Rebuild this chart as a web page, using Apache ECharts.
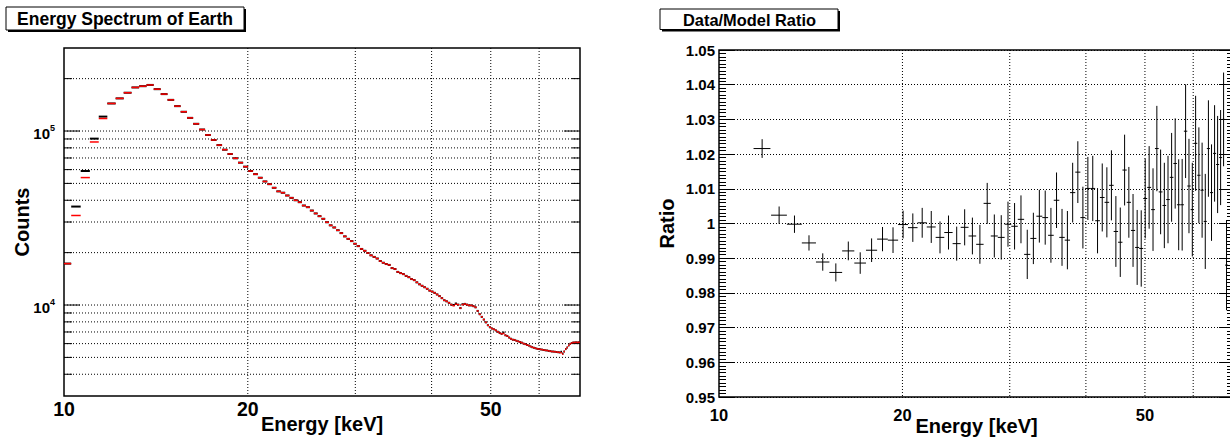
<!DOCTYPE html>
<html>
<head>
<meta charset="utf-8">
<script src="https://cdn.jsdelivr.net/npm/echarts@6.0.0/dist/echarts.min.js"></script>
<style>
html,body{margin:0;padding:0;background:#fff;}
#c{width:1230px;height:438px;}
</style>
</head>
<body>
<div id="c"></div>
<script>
// ---------------- data ----------------
// spectrum histogram binning (keV)
const specBinLow = 9.9;
const specBinWidth = 0.375;
// measured counts (black) per bin
const countsData = [
  17300, 36800, 58900, 90400, 121000, 144000, 154000, 166000, 178000, 181000,
  184000, 174000, 163000, 151000, 139000, 129000, 119000, 110000, 102000, 94900,
  88800, 83000, 78100, 73800, 69700, 65800, 62400, 58900, 56500, 53900,
  51300, 49500, 47200, 45000, 44200, 42600, 41300, 40000, 39000, 37300,
  36500, 34900, 33600, 32400, 31300, 29900, 28700, 27900, 26900, 25900,
  24800, 24000, 23300, 22500, 21800, 21000, 20500, 19900, 19300, 18900,
  18500, 17900, 17500, 17200, 17000, 16300, 16100, 15500, 15250, 15050,
  14700, 14450, 14100, 13900, 13500, 13150, 12900, 12650, 12400, 12100,
  11950, 11750, 11500, 11250, 10950, 10650, 10500, 10300, 10050, 10000,
  10200, 10050, 9600, 10100, 10150, 10050, 9950, 9950, 9850, 9700,
  9250, 8850, 8550, 8250, 7950, 7650, 7450, 7330, 7250, 7150,
  7020, 6900, 6830, 6950, 6700, 6640, 6500, 6400, 6320, 6300,
  6230, 6180, 6120, 6080, 6000, 5960, 5900, 5850, 5780, 5720,
  5690, 5640, 5600, 5580, 5560, 5540, 5510, 5490, 5470, 5450,
  5430, 5410, 5400, 5380, 5370, 5350, 5340, 5380, 5260, 5400,
  5580, 5700, 5860, 5980, 6050, 6080, 6090, 6100, 6090, 6100,
  6080
];
// model counts (red) per bin
const countsModel = [
  17300, 32700, 54000, 86500, 118000, 144000, 154000, 166000, 178000, 181000,
  184000, 174000, 163000, 151000, 139000, 129000, 119000, 110000, 102000, 94900,
  88800, 83000, 78100, 73800, 69700, 65800, 62400, 58900, 56500, 53900,
  51300, 49500, 47200, 45000, 44200, 42600, 41300, 40000, 39000, 37300,
  36500, 34900, 33600, 32400, 31300, 29900, 28700, 27900, 26900, 25900,
  24800, 24000, 23300, 22500, 21800, 21000, 20500, 19900, 19300, 18900,
  18500, 17900, 17500, 17200, 17000, 16300, 16100, 15500, 15250, 15050,
  14700, 14450, 14100, 13900, 13500, 13150, 12900, 12650, 12400, 12100,
  11950, 11750, 11500, 11250, 10950, 10650, 10500, 10300, 10050, 9900,
  10100, 10050, 9600, 10050, 10150, 10050, 9950, 9950, 9850, 9700,
  9250, 8850, 8550, 8250, 7950, 7650, 7450, 7330, 7250, 7150,
  7020, 6900, 6830, 6860, 6700, 6640, 6500, 6400, 6320, 6300,
  6230, 6180, 6120, 6080, 6000, 5960, 5900, 5850, 5780, 5720,
  5690, 5640, 5600, 5580, 5560, 5540, 5510, 5490, 5470, 5450,
  5430, 5410, 5400, 5380, 5370, 5350, 5340, 5320, 5220, 5400,
  5580, 5700, 5860, 5980, 6050, 6080, 6090, 6100, 6090, 6100,
  6080
];
// data/model ratio points
const ratioEnergy = [
  11.77, 12.55, 13.30, 14.05, 14.80, 15.55, 16.30, 17.05, 17.80, 18.55,
  19.30, 20.05, 20.80, 21.55, 22.30, 23.05, 23.80, 24.55, 25.30, 26.05,
  26.80, 27.55, 28.30, 29.05, 29.80, 30.55, 31.30, 32.05, 32.80, 33.55,
  34.30, 35.05, 35.80, 36.55, 37.30, 38.05, 38.80, 39.55, 40.30, 41.05,
  41.80, 42.55, 43.30, 44.05, 44.80, 45.55, 46.30, 47.05, 47.80, 48.55,
  49.30, 50.05, 50.80, 51.55, 52.30, 53.05, 53.80, 54.55, 55.30, 56.05,
  56.80, 57.55, 58.30, 59.05, 59.80, 60.55, 61.30, 62.05, 62.80, 63.55,
  64.30, 65.05, 65.80, 66.55, 67.30, 68.05
];
const ratioValue = [
  1.0216, 1.0024, 0.9998, 0.9944, 0.9889, 0.9859, 0.9921, 0.9886, 0.9923, 0.9955,
  0.9952, 0.9997, 0.9988, 1.0002, 0.9990, 0.9960, 0.9974, 0.9942, 0.9989, 0.9964,
  0.9940, 1.0058, 0.9964, 0.9960, 0.9998, 0.9992, 1.0012, 0.9911, 0.9957, 1.0021,
  1.0017, 0.9966, 1.0067, 0.9960, 0.9952, 1.0089, 1.0148, 1.0017, 1.0101, 1.0101,
  1.0008, 1.0075, 1.0061, 1.0110, 0.9977, 0.9946, 1.0154, 1.0061, 0.9980, 0.9931,
  0.9928, 1.0072, 1.0104, 1.0040, 1.0216, 1.0091, 1.0052, 1.0069, 1.0133, 1.0173,
  1.0054, 1.0054, 1.0266, 1.0108, 1.0040, 1.0231, 1.0139, 1.0096, 1.0006, 1.0216,
  1.0089, 1.0202, 1.0170, 1.0190, 1.0300, 0.9880
];
const ratioError = [
  0.0027, 0.0025, 0.0025, 0.0022, 0.0025, 0.0026, 0.0027, 0.0031, 0.0034, 0.0035,
  0.0037, 0.0040, 0.0041, 0.0043, 0.0046, 0.0046, 0.0049, 0.0049, 0.0052, 0.0053,
  0.0056, 0.0059, 0.0062, 0.0064, 0.0065, 0.0067, 0.0069, 0.0071, 0.0074, 0.0076,
  0.0078, 0.0079, 0.0080, 0.0082, 0.0084, 0.0086, 0.0089, 0.0089, 0.0091, 0.0094,
  0.0094, 0.0098, 0.0101, 0.0101, 0.0102, 0.0100, 0.0102, 0.0102, 0.0105, 0.0108,
  0.0110, 0.0115, 0.0119, 0.0119, 0.0123, 0.0122, 0.0123, 0.0126, 0.0128, 0.0130,
  0.0131, 0.0132, 0.0135, 0.0136, 0.0135, 0.0137, 0.0138, 0.0137, 0.0137, 0.0139,
  0.0139, 0.0139, 0.0140, 0.0137, 0.0135, 0.0130
];
const ratioHalfWidth = 0.375;
// axes / ticks
const energyMin = 10, energyMax = 70;
const countsMin = 3000, countsMax = 300000;
const ratioMin = 0.95, ratioMax = 1.05, ratioStep = 0.01;
const energyLabels = [10, 20, 50];
const energyGrid = [20, 30, 40, 50, 60];
const countsMajor = [10000, 100000];
const countsMinor = [4000, 5000, 6000, 7000, 8000, 9000,
                     20000, 30000, 40000, 50000, 60000, 70000, 80000, 90000, 200000];

// ---------------- chart ----------------
const FONT = '"Liberation Sans", Arial, Helvetica, sans-serif';
const chart = echarts.init(document.getElementById('c'), null, {renderer: 'svg', width: 1230, height: 438});

function dotted() { return {stroke: '#000', lineWidth: 1, lineDash: [1, 2]}; }

function hGrid(xi, yi, values, refX) {
  return {
    type: 'custom', xAxisIndex: xi, yAxisIndex: yi, silent: true, clip: false, z: 1,
    data: values.map(v => [refX, v]), encode: {x: 0, y: 1},
    renderItem: (params, api) => {
      const cs = params.coordSys;
      const y = api.coord([api.value(0), api.value(1)])[1];
      return {type: 'line', shape: {x1: cs.x, y1: y, x2: cs.x + cs.width, y2: y}, style: dotted()};
    }
  };
}
function vGrid(xi, yi, values, refY) {
  return {
    type: 'custom', xAxisIndex: xi, yAxisIndex: yi, silent: true, clip: false, z: 1,
    data: values.map(v => [v, refY]), encode: {x: 0, y: 1},
    renderItem: (params, api) => {
      const cs = params.coordSys;
      const x = api.coord([api.value(0), api.value(1)])[0];
      return {type: 'line', shape: {x1: x, y1: cs.y, x2: x, y2: cs.y + cs.height}, style: dotted()};
    }
  };
}
function yTicks(xi, yi, refX) {
  const data = countsMajor.map(v => [refX, v, 1]).concat(countsMinor.map(v => [refX, v, 0]));
  return {
    type: 'custom', xAxisIndex: xi, yAxisIndex: yi, silent: true, clip: false, z: 2,
    data: data, encode: {x: 0, y: 1},
    renderItem: (params, api) => {
      const cs = params.coordSys;
      const y = api.coord([api.value(0), api.value(1)])[1];
      const len = api.value(2) ? 16 : 8;
      const st = {stroke: '#000', lineWidth: 1};
      return {type: 'group', children: [
        {type: 'line', shape: {x1: cs.x, y1: y, x2: cs.x + len, y2: y}, style: Object.assign({}, st)},
        {type: 'line', shape: {x1: cs.x + cs.width, y1: y, x2: cs.x + cs.width - len, y2: y}, style: Object.assign({}, st)}
      ]};
    }
  };
}
function xLabels(xi, yi, refY, fontSize, offset) {
  return {
    type: 'custom', xAxisIndex: xi, yAxisIndex: yi, silent: true, clip: false, z: 5,
    data: energyLabels.map(v => [v, refY]), encode: {x: 0, y: 1},
    renderItem: (params, api) => {
      const cs = params.coordSys;
      const x = api.coord([api.value(0), api.value(1)])[0];
      return {type: 'text', x: x, y: cs.y + cs.height + offset,
        style: {text: String(api.value(0)), fill: '#000', font: 'bold ' + fontSize + 'px ' + FONT,
                align: 'center', verticalAlign: 'middle'}};
    }
  };
}
function hist(values, color, width, z) {
  return {
    type: 'custom', xAxisIndex: 0, yAxisIndex: 0, silent: true, clip: false, z: z,
    data: values.map((v, i) => [specBinLow + (i + 0.5) * specBinWidth, v]), encode: {x: 0, y: 1},
    renderItem: (params, api) => {
      const c = api.value(0), v = api.value(1);
      const lo = Math.max(c - specBinWidth / 2, energyMin);
      const hi = Math.min(c + specBinWidth / 2, energyMax);
      const a = api.coord([lo, v]), b = api.coord([hi, v]);
      return {type: 'line', shape: {x1: a[0], y1: a[1], x2: b[0], y2: b[1]}, style: {stroke: color, lineWidth: width}};
    }
  };
}
const ratioSeries = {
  type: 'custom', xAxisIndex: 1, yAxisIndex: 1, silent: true, clip: false, z: 4,
  data: ratioEnergy.map((e, i) => [e, ratioValue[i], ratioError[i]]), encode: {x: 0, y: 1},
  renderItem: (params, api) => {
    const e = api.value(0), r = api.value(1), er = api.value(2);
    const l = api.coord([e - ratioHalfWidth, r]), rr = api.coord([e + ratioHalfWidth, r]);
    const t = api.coord([e, r + er]), b = api.coord([e, r - er]);
    return {type: 'group', children: [
      {type: 'line', shape: {x1: l[0], y1: l[1], x2: rr[0], y2: rr[1]}, style: {stroke: '#000', lineWidth: 1}},
      {type: 'line', shape: {x1: t[0], y1: t[1], x2: b[0], y2: b[1]}, style: {stroke: '#000', lineWidth: 1}}
    ]};
  }
};

const nameStyle = {fontFamily: FONT, fontSize: 20, fontWeight: 'bold', color: '#000'};
const hiddenAxisParts = {axisLine: {show: false}, axisTick: {show: false}, splitLine: {show: false}};

const option = {
  animation: false,
  backgroundColor: '#fff',
  grid: [
    {left: 64, top: 48, width: 516, height: 348, show: true, borderColor: '#000', borderWidth: 1.5,
     backgroundColor: '#fff', containLabel: false, outerBoundsMode: 'none'},
    {left: 719, top: 50, width: 515, height: 347, show: true, borderColor: '#000', borderWidth: 1.5,
     backgroundColor: '#fff', containLabel: false, outerBoundsMode: 'none'}
  ],
  xAxis: [
    Object.assign({gridIndex: 0, type: 'log', logBase: 10, min: energyMin, max: energyMax,
      axisLabel: {show: false}, name: 'Energy [keV]', nameLocation: 'middle', nameGap: 18,
      nameMoveOverlap: false, nameTextStyle: nameStyle}, hiddenAxisParts),
    Object.assign({gridIndex: 1, type: 'log', logBase: 10, min: energyMin, max: energyMax,
      axisLabel: {show: false}, name: 'Energy [keV]', nameLocation: 'middle', nameGap: 19,
      nameMoveOverlap: false, nameTextStyle: nameStyle}, hiddenAxisParts)
  ],
  yAxis: [
    Object.assign({gridIndex: 0, type: 'log', logBase: 10, min: countsMin, max: countsMax,
      name: 'Counts', nameLocation: 'middle', nameGap: 32, nameMoveOverlap: false, nameTextStyle: nameStyle,
      axisLabel: {
        margin: 9, padding: [4, 0, 0, 0],
        formatter: v => {
          const l = Math.log10(v), e = Math.round(l);
          if (Math.abs(l - e) > 1e-6) return '';
          return '{b|10}{s|' + e + '}';
        },
        rich: {
          b: {fontFamily: FONT, fontSize: 15, fontWeight: 'bold', color: '#000', lineHeight: 15, verticalAlign: 'bottom'},
          s: {fontFamily: FONT, fontSize: 9, fontWeight: 'bold', color: '#000', lineHeight: 9, padding: [0, 0, 8, 0], verticalAlign: 'bottom'}
        }
      }}, hiddenAxisParts),
    {gridIndex: 1, type: 'value', min: ratioMin, max: ratioMax, interval: ratioStep,
      name: 'Ratio', nameLocation: 'middle', nameGap: 42, nameMoveOverlap: false, nameTextStyle: nameStyle,
      axisLine: {show: false},
      axisTick: {show: true, inside: true, length: 15, lineStyle: {color: '#000', width: 1}},
      minorTick: {show: true, splitNumber: 10, length: 7, lineStyle: {color: '#000', width: 1}},
      splitLine: {show: true, lineStyle: {color: '#000', width: 1, type: [1, 2]}},
      axisLabel: {margin: 4, fontFamily: FONT, fontSize: 15, fontWeight: 'bold', color: '#000',
        formatter: v => String(Number(v.toFixed(2)))}},
    {gridIndex: 1, type: 'value', position: 'right', min: ratioMin, max: ratioMax, interval: ratioStep,
      axisLine: {show: false},
      axisTick: {show: true, inside: true, length: 15, lineStyle: {color: '#000', width: 1}},
      minorTick: {show: true, splitNumber: 10, length: 7, lineStyle: {color: '#000', width: 1}},
      splitLine: {show: false}, axisLabel: {show: false}}
  ],
  graphic: [
    {type: 'rect', silent: true, shape: {x: 8, y: 9, width: 238, height: 23}, style: {fill: '#000'}},
    {type: 'rect', silent: true, shape: {x: 6, y: 7, width: 238, height: 23}, style: {fill: '#fff', stroke: '#000', lineWidth: 1}},
    {type: 'text', silent: true, x: 125, y: 19, style: {text: 'Energy Spectrum of Earth', font: 'bold 17.5px ' + FONT,
      fill: '#000', align: 'center', verticalAlign: 'middle'}},
    {type: 'rect', silent: true, shape: {x: 662, y: 11, width: 178, height: 20.5}, style: {fill: '#000'}},
    {type: 'rect', silent: true, shape: {x: 660, y: 9, width: 178, height: 20.5}, style: {fill: '#fff', stroke: '#000', lineWidth: 1}},
    {type: 'text', silent: true, x: 749.5, y: 20.3, style: {text: 'Data/Model Ratio', font: 'bold 16.4px ' + FONT,
      fill: '#000', align: 'center', verticalAlign: 'middle'}}
  ],
  series: [
    hGrid(0, 0, countsMajor.concat(countsMinor), energyMin),
    vGrid(0, 0, energyGrid, countsMajor[0]),
    yTicks(0, 0, energyMin),
    hist(countsData, '#000', 2, 3),
    hist(countsModel, '#ff0000', 1.5, 4),
    xLabels(0, 0, countsMajor[0], 19.5, 12.5),
    vGrid(1, 1, energyGrid, 1),
    ratioSeries,
    xLabels(1, 1, 1, 16.5, 17.5)
  ]
};
chart.setOption(option);
</script>
</body>
</html>
